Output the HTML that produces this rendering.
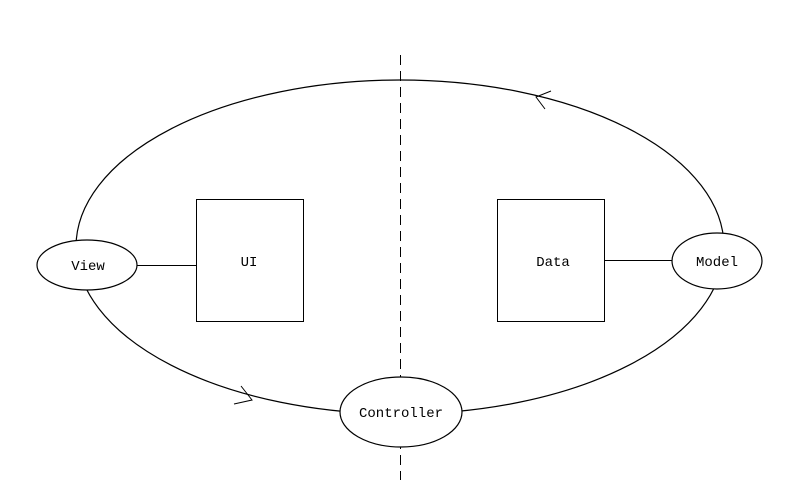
<!DOCTYPE html>
<html><head><meta charset="utf-8"><style>html,body{margin:0;padding:0;background:#fff;}svg{display:block}</style></head>
<body>
<svg width="800" height="500" viewBox="0 0 800 500" xmlns="http://www.w3.org/2000/svg">
<rect width="800" height="500" fill="#fff"/>
<line x1="400.5" y1="55" x2="400.5" y2="480" stroke="#000" stroke-width="1" stroke-dasharray="10,6"/>
<ellipse cx="400" cy="247" rx="324" ry="167" fill="none" stroke="#000" stroke-width="1.2"/>
<polyline points="241,386 252,400 234,404" fill="none" stroke="#000" stroke-width="1"/>
<polyline points="551,91 536,97 545,109" fill="none" stroke="#000" stroke-width="1"/>
<line x1="137" y1="265.5" x2="196" y2="265.5" stroke="#000"/>
<line x1="604" y1="260.5" x2="672" y2="260.5" stroke="#000"/>
<rect x="196.5" y="199.5" width="107" height="122" fill="#fff" stroke="#000"/>
<rect x="497.5" y="199.5" width="107" height="122" fill="#fff" stroke="#000"/>
<ellipse cx="87" cy="265" rx="50" ry="25" fill="#fff" stroke="#000" stroke-width="1.2"/>
<ellipse cx="717" cy="261" rx="45" ry="28" fill="#fff" stroke="#000" stroke-width="1.2"/>
<ellipse cx="401" cy="412" rx="61" ry="35" fill="#fff" stroke="#000" stroke-width="1.2"/>
<g font-family="Liberation Mono, monospace" font-size="14" text-anchor="middle" fill="#000">
<text x="88" y="270">View</text>
<text x="249" y="266">UI</text>
<text x="553" y="266">Data</text>
<text x="717" y="266">Model</text>
<text x="401" y="417">Controller</text>
</g>
</svg>
</body></html>
